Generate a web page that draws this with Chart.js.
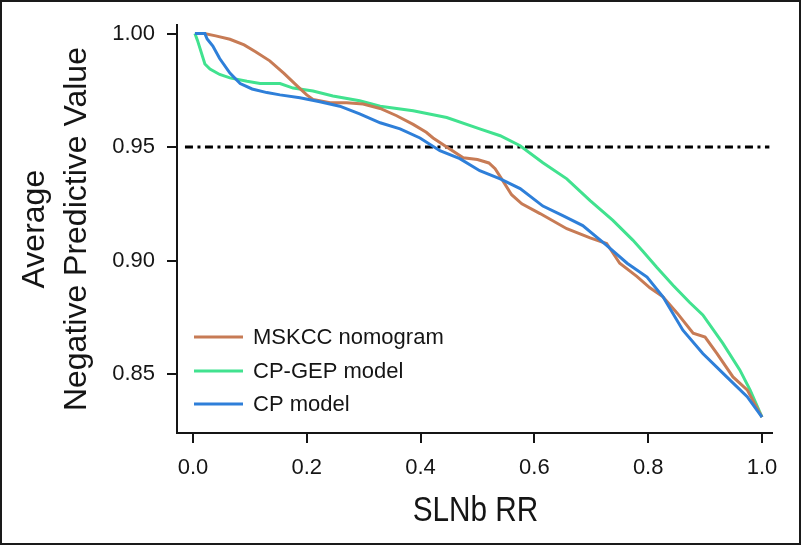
<!DOCTYPE html>
<html><head><meta charset="utf-8">
<script src="https://cdn.jsdelivr.net/npm/chart.js@4"></script>
<style>
html,body{margin:0;padding:0;background:#fff;}
#wrap{position:relative;width:801px;height:545px;background:#fff;}
#c{display:block;}
#frame{position:absolute;left:0;top:0;width:801px;height:545px;box-sizing:border-box;border:2px solid #1a1a1a;pointer-events:none;}
</style></head><body>
<div id="wrap"><canvas id="c" width="801" height="545" style="width:801px;height:545px"></canvas><div id="frame"></div></div>
<script>
// ---- data ----
const seriesLabels = ['MSKCC nomogram', 'CP-GEP model', 'CP model'];
const xTitle = 'SLNb RR';
const yTitle = ['Average', 'Negative Predictive Value'];
const xTicks = [0, 0.2, 0.4, 0.6, 0.8, 1.0];
const yTicks = [0.85, 0.90, 0.95, 1.00];
const refLineX = [-0.014, 1.013];
const refLineY = 0.95;

const mskccX = [0.005, 0.02, 0.04, 0.065, 0.09, 0.11, 0.135, 0.16, 0.183, 0.2, 0.211, 0.241, 0.27, 0.299, 0.329, 0.358, 0.387, 0.41, 0.422, 0.446, 0.475, 0.5, 0.52, 0.531, 0.545, 0.56, 0.578, 0.61, 0.657, 0.698, 0.727, 0.75, 0.78, 0.803, 0.826, 0.851, 0.879, 0.9, 0.921, 0.949, 0.974, 1.0];
const mskccY = [1.0, 1.0, 0.999, 0.9975, 0.995, 0.992, 0.988, 0.9825, 0.977, 0.973, 0.971, 0.9695, 0.9695, 0.969, 0.967, 0.9638, 0.960, 0.9565, 0.954, 0.950, 0.9453, 0.9445, 0.943, 0.9405, 0.935, 0.929, 0.925, 0.9207, 0.914, 0.910, 0.9075, 0.8988, 0.893, 0.888, 0.884, 0.8768, 0.868, 0.8663, 0.859, 0.8487, 0.843, 0.831];

const cpgepX = [0.0035, 0.008, 0.012, 0.021, 0.03, 0.047, 0.065, 0.095, 0.118, 0.153, 0.176, 0.211, 0.246, 0.293, 0.329, 0.387, 0.446, 0.504, 0.54, 0.575, 0.615, 0.657, 0.698, 0.738, 0.773, 0.791, 0.815, 0.844, 0.873, 0.896, 0.931, 0.961, 0.979, 1.0];
const cpgepY = [1.0, 0.997, 0.9938, 0.9866, 0.9844, 0.982, 0.9805, 0.979, 0.978, 0.978, 0.976, 0.9747, 0.9725, 0.9704, 0.968, 0.966, 0.963, 0.958, 0.955, 0.9506, 0.9431, 0.936, 0.9264, 0.9177, 0.909, 0.904, 0.897, 0.889, 0.8815, 0.876, 0.8636, 0.8518, 0.843, 0.831];

const cpX = [0.0035, 0.021, 0.025, 0.035, 0.047, 0.065, 0.083, 0.104, 0.13, 0.153, 0.188, 0.223, 0.258, 0.293, 0.329, 0.364, 0.399, 0.434, 0.469, 0.504, 0.54, 0.575, 0.615, 0.65, 0.685, 0.727, 0.763, 0.798, 0.826, 0.861, 0.896, 0.938, 0.974, 1.0];
const cpY = [1.0, 1.0, 0.9976, 0.9945, 0.989, 0.9826, 0.978, 0.9756, 0.974, 0.973, 0.9717, 0.970, 0.968, 0.9646, 0.9607, 0.958, 0.954, 0.9484, 0.9449, 0.9396, 0.936, 0.9317, 0.924, 0.9198, 0.9154, 0.9067, 0.8988, 0.8927, 0.884, 0.8693, 0.859, 0.8487, 0.840, 0.831];

// ---- styling ----
const FONT = "'Liberation Sans', Arial, Helvetica, sans-serif";
const INK = '#151515';
const ORANGE = '#C77B55';
const GREEN = '#41E28F';
const BLUE = '#2E7FD9';

const zip = (xs, ys) => xs.map((x, i) => ({x, y: ys[i]}));

const insideLegend = {
  id: 'insideLegend',
  afterDatasetsDraw(chart) {
    const {ctx, chartArea} = chart;
    ctx.save();
    ctx.font = '22px ' + FONT;
    ctx.textBaseline = 'middle';
    ctx.textAlign = 'left';
    const offs = [-96, -62, -29];
    for (let i = 0; i < 3; i++) {
      const ds = chart.data.datasets[i];
      const y = chartArea.bottom + offs[i];
      ctx.strokeStyle = ds.borderColor;
      ctx.lineWidth = 3;
      ctx.beginPath();
      ctx.moveTo(chartArea.left + 17, y);
      ctx.lineTo(chartArea.left + 66, y);
      ctx.stroke();
      ctx.fillStyle = INK;
      ctx.fillText(ds.label, chartArea.left + 76, y + 1);
    }
    // condensed x-axis title
    ctx.font = '35px ' + FONT;
    ctx.textAlign = 'center';
    ctx.textBaseline = 'middle';
    ctx.translate((chartArea.left + chartArea.right) / 2 + 1, chartArea.bottom + 78);
    ctx.scale(0.85, 1);
    ctx.fillText(xTitle, 0, 0);
    ctx.restore();
  }
};

new Chart(document.getElementById('c').getContext('2d'), {
  type: 'line',
  data: {
    datasets: [
      {label: seriesLabels[0], data: zip(mskccX, mskccY), borderColor: ORANGE, borderWidth: 3, pointRadius: 0, tension: 0, order: 2},
      {label: seriesLabels[1], data: zip(cpgepX, cpgepY), borderColor: GREEN, borderWidth: 3, pointRadius: 0, tension: 0, order: 3},
      {label: seriesLabels[2], data: zip(cpX, cpY), borderColor: BLUE, borderWidth: 3, pointRadius: 0, tension: 0, order: 1},
      {label: 'ref', data: refLineX.map(x => ({x, y: refLineY})), borderColor: '#000', borderWidth: 3, borderDash: [8, 4.5, 3, 4.5], pointRadius: 0, order: 4}
    ]
  },
  options: {
    responsive: false,
    animation: false,
    devicePixelRatio: 1,
    layout: {padding: {left: 0, right: 29, top: 24, bottom: 0}},
    plugins: {legend: {display: false}, tooltip: {enabled: false}},
    scales: {
      x: {
        type: 'linear', min: -0.028, max: 1.0176,
        afterBuildTicks: s => { s.ticks = xTicks.map(v => ({value: v})); },
        afterFit: s => { s.height = 112; },
        border: {display: true, color: INK, width: 2},
        grid: {display: true, drawOnChartArea: false, drawTicks: true, tickLength: 10, color: INK, lineWidth: 2},
        ticks: {font: {family: FONT, size: 22}, color: INK, padding: 12, maxRotation: 0, autoSkip: false, callback: v => Number(v).toFixed(1)},
        title: {display: false}
      },
      y: {
        type: 'linear', min: 0.824, max: 1.0037,
        afterBuildTicks: s => { s.ticks = yTicks.map(v => ({value: v})); },
        afterFit: s => { s.width = 177; },
        border: {display: true, color: INK, width: 2},
        grid: {display: true, drawOnChartArea: false, drawTicks: true, tickLength: 10, color: INK, lineWidth: 2},
        ticks: {font: {family: FONT, size: 22}, color: INK, padding: 12, autoSkip: false, callback: v => Number(v).toFixed(2)},
        title: {display: true, text: yTitle, font: {family: FONT, size: 32, lineHeight: 1.31}, color: INK, padding: {top: 14, bottom: 0}}
      }
    }
  },
  plugins: [insideLegend]
});
</script>
</body></html>
